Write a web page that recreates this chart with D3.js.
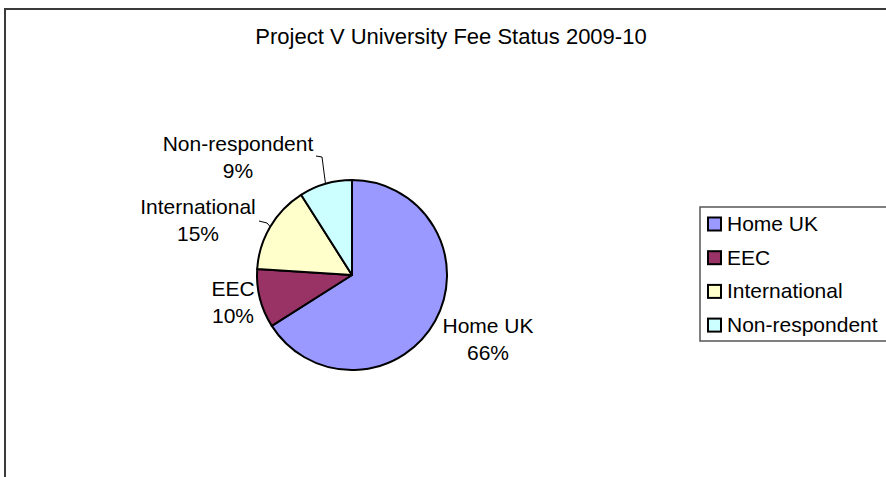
<!DOCTYPE html>
<html>
<head>
<meta charset="utf-8">
<script src="https://cdn.jsdelivr.net/npm/d3@7/dist/d3.min.js"></script>
<style>
  html, body { margin: 0; padding: 0; background: #fff; }
  svg { display: block; }
  text { font-family: "Liberation Sans", Arial, Helvetica, sans-serif; fill: #000; }
</style>
</head>
<body>
<svg id="chart" width="886" height="477"></svg>
<script>
// ---- data ----
const title = "Project V University Fee Status 2009-10";
const categories = ["Home UK", "EEC", "International", "Non-respondent"];
const values = [66, 10, 15, 9];
const colors = ["#9999FF", "#993366", "#FFFFCC", "#CCFFFF"];

// ---- layout (label anchors as placed in the original) ----
const labelAnchors = [
  { x: 488, y: 333, leader: false },
  { x: 233, y: 296, leader: false },
  { x: 198, y: 214, leader: [[259, 221], [267, 223]] },
  { x: 238, y: 151, leader: [[316, 156], [322, 157]] }
];

const svg = d3.select("#chart");
const W = 886, H = 477;
const cx = 352, cy = 275, R = 95;

// outer chart frame
svg.append("rect")
  .attr("x", 5).attr("y", 9)
  .attr("width", W + 20).attr("height", H + 20)
  .attr("fill", "none").attr("stroke", "#3a3a3a").attr("stroke-width", 2);

// title
svg.append("text")
  .attr("x", 451).attr("y", 44)
  .attr("text-anchor", "middle")
  .style("font-size", "22px")
  .text(title);

const total = d3.sum(values);
const data = categories.map((c, i) => ({ name: c, value: values[i], color: colors[i], i }));

const pie = d3.pie().sort(null).value(d => d.value).startAngle(0).endAngle(2 * Math.PI);
const arcs = pie(data);
const arc = d3.arc().innerRadius(0).outerRadius(R);
const edgeArc = d3.arc().innerRadius(R).outerRadius(R);

const g = svg.append("g").attr("transform", `translate(${cx},${cy})`);
g.selectAll("path.slice")
  .data(arcs)
  .join("path")
  .attr("class", "slice")
  .attr("d", arc)
  .attr("fill", d => d.data.color)
  .attr("stroke", "#000")
  .attr("stroke-width", 2)
  .attr("stroke-linejoin", "round");

// leader lines
arcs.forEach((a, i) => {
  const la = labelAnchors[i];
  if (!la.leader) return;
  const e = edgeArc.centroid(a);
  const pts = la.leader.concat([[cx + e[0], cy + e[1]]]);
  svg.append("path")
    .attr("d", d3.line()(pts))
    .attr("fill", "none")
    .attr("stroke", "#000")
    .attr("stroke-width", 1);
});

// data labels
arcs.forEach((a, i) => {
  const la = labelAnchors[i];
  const pct = Math.round(a.data.value / total * 100) + "%";
  const t = svg.append("text")
    .attr("text-anchor", "middle")
    .style("font-size", "21px");
  t.append("tspan").attr("x", la.x).attr("y", la.y).text(a.data.name);
  t.append("tspan").attr("x", la.x).attr("y", la.y + 26.5).text(pct);
});

// legend
const lgX = 700, lgY = 207, lgH = 134, rowH = 33.7;
svg.append("rect")
  .attr("x", lgX).attr("y", lgY)
  .attr("width", 220).attr("height", lgH)
  .attr("fill", "#fff").attr("stroke", "#555").attr("stroke-width", 1.5);

const lg = svg.append("g");
const items = lg.selectAll("g.item").data(data).join("g").attr("class", "item")
  .attr("transform", d => `translate(${lgX + 8},${lgY + 10.5 + d.i * rowH})`);
items.append("rect")
  .attr("x", 0).attr("y", 0).attr("width", 13).attr("height", 13)
  .attr("fill", d => d.color).attr("stroke", "#000").attr("stroke-width", 2);
items.append("text")
  .attr("x", 19).attr("y", 13.5)
  .style("font-size", "21px")
  .text(d => d.name);
</script>
</body>
</html>
